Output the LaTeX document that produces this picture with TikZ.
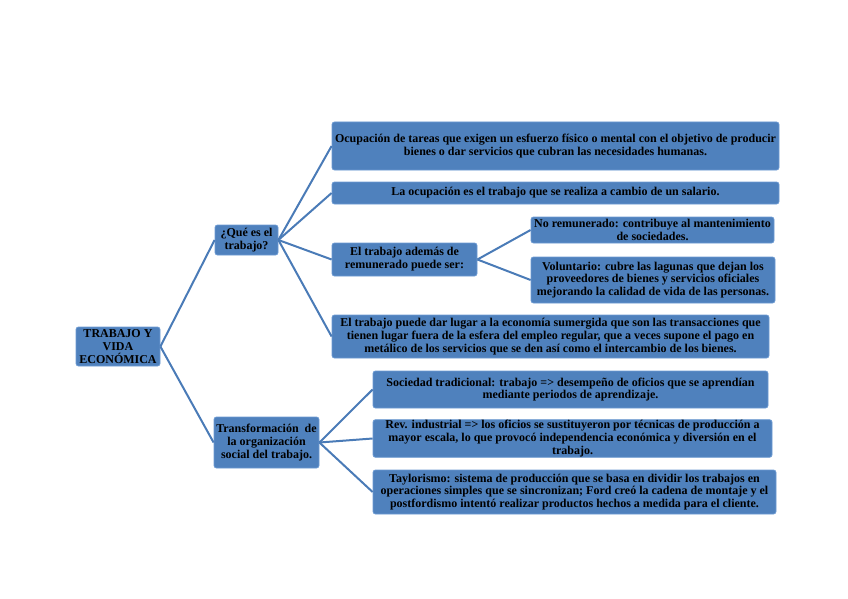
\documentclass[tikz,border=0pt]{standalone}
\usepackage{fontspec}
\setmainfont{Liberation Serif}
\definecolor{boxfill}{HTML}{4F81BD}
\definecolor{boxline}{HTML}{6C9AD2}
\definecolor{conn}{HTML}{4A7BB7}
\begin{document}
\begin{tikzpicture}[x=1pt,y=-1pt,
  box/.style={draw=boxline, line width=0.8pt, fill=boxfill, rounded corners=2.5pt,
    inner sep=0.5pt, align=center, font=\bfseries\fontsize{12}{12.8}\selectfont, text=black},
  link/.style={draw=conn, line width=2pt}]
\useasboundingbox (0,0) rectangle (848,599);
\node[box, minimum width=84pt, minimum height=39pt] (root) at (118,346.5) {TRABAJO Y\\VIDA\\ECONÓMICA};
\node[box, minimum width=63pt, minimum height=30pt] (que) at (246.5,240) {¿Qué es el\\trabajo?};
\node[box, minimum width=105pt, minimum height=51pt] (trans) at (266.5,442.5) {Transformación~ de\\la organización\\social del trabajo.};
\node[box, minimum width=447pt, minimum height=48pt] (b1) at (555.5,146) {Ocupación de tareas que exigen un esfuerzo físico o mental con el objetivo de producir\\bienes o dar servicios que cubran las necesidades humanas.};
\node[box, minimum width=447pt, minimum height=22pt] (b2) at (555.5,193) {La ocupación es el trabajo que se realiza a cambio de un salario.};
\node[box, minimum width=145pt, minimum height=33pt] (b3) at (404.5,259.5) {El trabajo además de\\remunerado puede ser:};
\node[box, minimum width=243pt, minimum height=26pt] (b31) at (652.5,230) {No remunerado: contribuye al mantenimiento\\de sociedades.};
\node[box, minimum width=244pt, minimum height=46pt] (b32) at (653,280) {Voluntario: cubre las lagunas que dejan los\\proveedores de bienes y servicios oficiales\\mejorando la calidad de vida de las personas.};
\node[box, minimum width=437pt, minimum height=43pt] (b4) at (550.5,336.5) {El trabajo puede dar lugar a la economía sumergida que son las transacciones que\\tienen lugar fuera de la esfera del empleo regular, que a veces supone el pago en\\metálico de los servicios que se den así como el intercambio de los bienes.};
\node[box, minimum width=395pt, minimum height=37pt] (t1) at (570.5,389.5) {Sociedad tradicional: trabajo => desempeño de oficios que se aprendían\\mediante periodos de aprendizaje.};
\node[box, minimum width=399pt, minimum height=37pt] (t2) at (572.5,438.5) {Rev. industrial => los oficios se sustituyeron por técnicas de producción a\\mayor escala, lo que provocó independencia económica y diversión en el\\trabajo.};
\node[box, minimum width=403pt, minimum height=44pt] (t3) at (574.5,492) {Taylorismo: sistema de producción que se basa en dividir los trabajos en\\operaciones simples que se sincronizan; Ford creó la cadena de montaje y el\\postfordismo intentó realizar productos hechos a medida para el cliente.};
\draw[link] (root.east) -- (que.west);
\draw[link] (root.east) -- (trans.west);
\draw[link] (que.east) -- (b1.west);
\draw[link] (que.east) -- (b2.west);
\draw[link] (que.east) -- (b3.west);
\draw[link] (que.east) -- (b4.west);
\draw[link] (b3.east) -- (b31.west);
\draw[link] (b3.east) -- (b32.west);
\draw[link] (trans.east) -- (t1.west);
\draw[link] (trans.east) -- (t2.west);
\draw[link] (trans.east) -- (t3.west);
\end{tikzpicture}
\end{document}
